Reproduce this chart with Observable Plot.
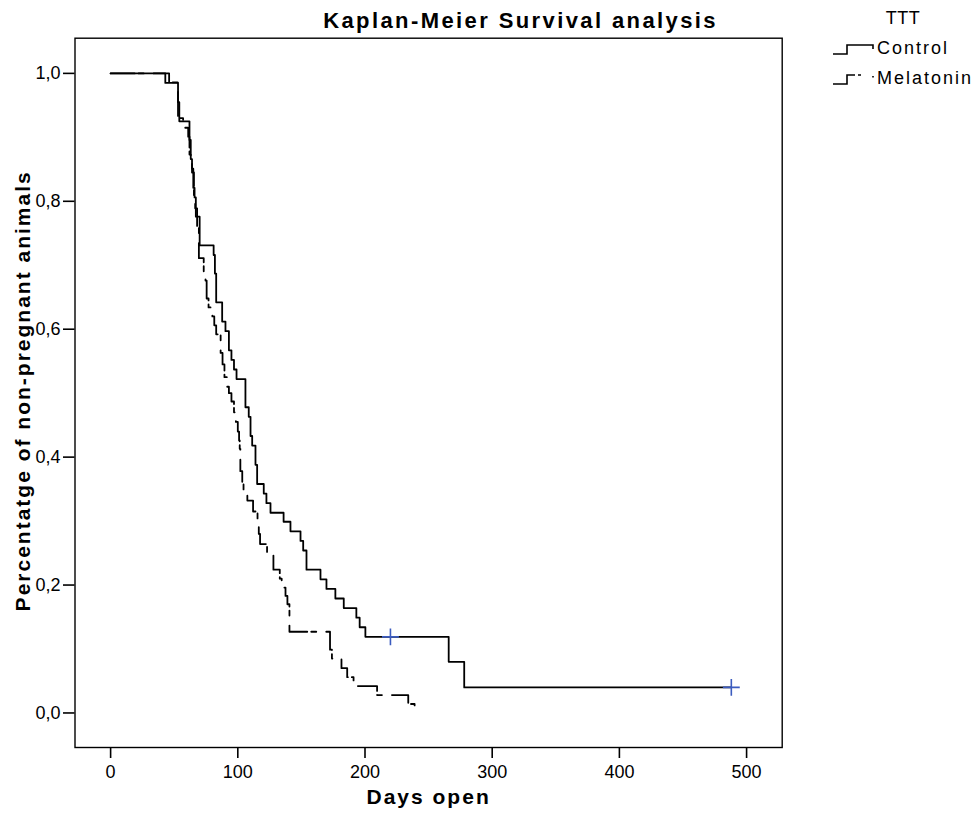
<!DOCTYPE html>
<html><head><meta charset="utf-8">
<script src="https://cdn.jsdelivr.net/npm/d3@7"></script>
<script src="https://cdn.jsdelivr.net/npm/@observablehq/plot@0.6"></script>
<style>
body{margin:0;background:#fff;}
#chart{position:relative;width:974px;height:814px;}
</style>
</head><body><div id="chart"></div>
<script>
// ---- data ----
const title = "Kaplan-Meier Survival analysis";
const xLabel = "Days open";
const yLabel = "Percentatge of non-pregnant animals";
const legendTitle = "TTT";
const groups = ["Control", "Melatonin"];
const xTicks = [0, 100, 200, 300, 400, 500];
const yTicks = [0, 0.2, 0.4, 0.6, 0.8, 1.0];

const controlTimes = [0, 43, 53, 54, 62, 63, 64, 65, 66, 67, 70, 81, 82, 83, 87.7, 90.3, 93, 95, 97, 99, 106, 108.6, 110, 111.3, 113.9, 115.2, 120.4, 122.5, 125.7, 136, 141.4, 149.3, 151.4, 154, 165, 169.7, 176.7, 183.3, 193.2, 195.8, 200.3, 265.8, 278, 488];
const controlSurv = [1.0, 0.985, 0.955, 0.925, 0.896, 0.866, 0.851, 0.821, 0.806, 0.776, 0.731, 0.716, 0.687, 0.642, 0.612, 0.597, 0.567, 0.552, 0.537, 0.522, 0.478, 0.463, 0.433, 0.418, 0.388, 0.358, 0.343, 0.328, 0.313, 0.299, 0.284, 0.269, 0.254, 0.224, 0.209, 0.194, 0.179, 0.164, 0.149, 0.134, 0.119, 0.080, 0.040, 0.040];
const controlCensorTimes = [220, 488];
const controlCensorSurv = [0.119, 0.040];

const melatoninTimes = [0, 46, 53, 57, 61, 62, 63, 64, 65.5, 66.5, 68, 69.4, 73.2, 74.6, 75.5, 77, 80, 81.5, 83, 86.5, 88, 89.5, 91.5, 93, 95, 97, 98.5, 100, 101, 101.5, 102, 103.5, 104.5, 105.5, 107.5, 112, 115.5, 116.5, 117.5, 123, 128, 133, 134.5, 137.5, 139, 140.6, 172.5, 174, 181.5, 186, 191, 209.5, 234, 239];
const melatoninSurv = [1.0, 0.986, 0.930, 0.915, 0.901, 0.873, 0.859, 0.845, 0.803, 0.789, 0.761, 0.711, 0.690, 0.676, 0.648, 0.634, 0.620, 0.606, 0.592, 0.563, 0.545, 0.525, 0.510, 0.500, 0.487, 0.470, 0.455, 0.440, 0.426, 0.413, 0.378, 0.360, 0.348, 0.340, 0.332, 0.315, 0.295, 0.280, 0.264, 0.251, 0.224, 0.210, 0.196, 0.183, 0.170, 0.127, 0.099, 0.085, 0.070, 0.056, 0.042, 0.028, 0.014, 0.0];

// ---- tables built from the arrays ----
const control = controlTimes.map((t, i) => ({t, s: controlSurv[i]}));
const melatonin = melatoninTimes.map((t, i) => ({t, s: melatoninSurv[i]}));
const censored = controlCensorTimes.map((t, i) => ({t, s: controlCensorSurv[i]}));

const FONT = "'Liberation Sans', Arial, Helvetica, sans-serif";
const DASH = "24,4,5,10";
const LEGEND_DASH = "31,3,3,13,1.5,30";

const plot = Plot.plot({
  width: 974,
  height: 814,
  marginLeft: 74.5,
  marginRight: 192.3,
  marginTop: 37.7,
  marginBottom: 67,
  style: {fontFamily: FONT, fontSize: "18px", background: "white", color: "black", overflow: "visible"},
  x: {domain: [-28, 528], ticks: xTicks},
  y: {domain: [-0.054, 1.055], ticks: yTicks},
  marks: [
    Plot.frame({stroke: "black", strokeWidth: 1.4}),
    Plot.axisX({ticks: xTicks, tickSize: 11, tickPadding: 7, label: null, strokeWidth: 1.6, fontSize: 18}),
    Plot.axisY({ticks: yTicks, tickSize: 11.5, tickPadding: 3, label: null, strokeWidth: 1.6, fontSize: 18,
      tickFormat: d => d.toFixed(1).replace(".", ",")}),
    Plot.line(melatonin, {x: "t", y: "s", curve: "step-after", stroke: "black", strokeWidth: 1.8, strokeDasharray: DASH}),
    Plot.line(control, {x: "t", y: "s", curve: "step-after", stroke: "black", strokeWidth: 1.8}),
    Plot.dot(censored, {x: "t", y: "s", symbol: "plus", r: 5.5, stroke: "#3c5cbf", strokeWidth: 1.6}),
    Plot.text([title], {text: d => d, frameAnchor: "top", lineAnchor: "middle", textAnchor: "middle", dx: 92, dy: -17.4, fontSize: 22, fontWeight: "bold", fill: "black"}),
    Plot.text([xLabel], {text: d => d, frameAnchor: "bottom", lineAnchor: "middle", textAnchor: "middle", dx: 0, dy: 49.6, fontSize: 21, fontWeight: "bold", fill: "black"}),
    Plot.text([yLabel], {text: d => d, frameAnchor: "left", lineAnchor: "middle", textAnchor: "middle", dx: -52.2, dy: -2, rotate: -90, fontSize: 21, fontWeight: "bold", fill: "black"})
  ]
});

// letter spacing of the bold labels, as in the reference
d3.select(plot).selectAll("text").each(function() {
  const t = this.textContent;
  if (t === title) d3.select(this).attr("letter-spacing", "2.4px");
  if (t === xLabel || t === yLabel) d3.select(this).attr("letter-spacing", "2px");
});

// legend (right of the plot)
const svg = d3.select(plot);
const lg = svg.append("g").attr("font-family", FONT).attr("font-size", 18).attr("fill", "black");
lg.append("text").attr("x", 903).attr("y", 24).attr("text-anchor", "middle").attr("letter-spacing", "0.5px").text(legendTitle);
const rows = [
  {name: groups[0], y: 54, dash: null},
  {name: groups[1], y: 84, dash: LEGEND_DASH}
];
rows.forEach(r => {
  lg.append("path")
    .attr("d", `M833,${r.y}H847V${r.y - 9}H873V${r.y - 5}`)
    .attr("fill", "none").attr("stroke", "black").attr("stroke-width", 1.6)
    .attr("stroke-dasharray", r.dash);
  lg.append("text").attr("x", 877).attr("y", r.y).attr("text-anchor", "start").attr("letter-spacing", "2px").text(r.name);
});

document.getElementById("chart").appendChild(plot);
</script>
</body></html>
